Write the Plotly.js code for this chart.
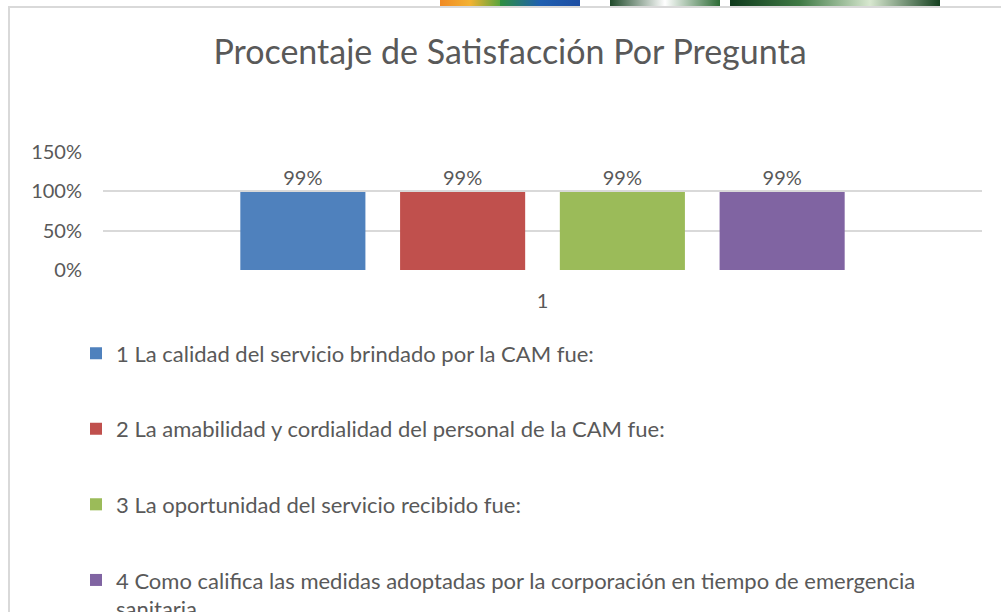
<!DOCTYPE html>
<html>
<head>
<meta charset="utf-8">
<script src="https://cdn.plot.ly/plotly-3.0.1.min.js"></script>
<style>
  html, body { margin: 0; padding: 0; width: 1001px; height: 612px; overflow: hidden; background: #fff; }
  #frame { position: absolute; left: 8px; top: 6px; width: 1010px; height: 620px;
           border-left: 2px solid #d9d9d9; border-top: 2px solid #d9d9d9; }
  #chart { position: absolute; left: 0; top: 0; width: 1000px; height: 604px; }
  .strip { position: absolute; top: 0; height: 6px; }
</style>
</head>
<body>
<div class="strip" style="left:440px;width:60px;background:linear-gradient(90deg,#f08a24,#f3b233,#5aa53c)"></div>
<div class="strip" style="left:500px;width:80px;background:linear-gradient(90deg,#2d8f3e,#1f5fb0,#1d4ea3)"></div>
<div class="strip" style="left:610px;width:110px;background:linear-gradient(90deg,#1f4a2a,#ffffff,#2c6b35)"></div>
<div class="strip" style="left:730px;width:210px;background:linear-gradient(90deg,#0f3a1c,#3f7a45,#d8e8d0,#14401f)"></div>
<div id="frame"><div id="chart"></div></div>
<script>
var category = ['1'];
var questions = [
  '1 La calidad del servicio brindado por la CAM fue:',
  '2 La amabilidad y cordialidad del personal de la CAM fue:',
  '3 La oportunidad del servicio recibido fue:',
  '4 Como califica las medidas adoptadas por la corporación en tiempo de emergencia<br>sanitaria'
];
var satisfaction = [0.99, 0.99, 0.99, 0.99];
var colors = ['#4f81bd', '#c0504d', '#9bbb59', '#8064a2'];

var traces = [];
for (var i = 0; i < questions.length; i++) {
  traces.push({
    x: category,
    y: [satisfaction[i]],
    name: questions[i],
    legendgroup: 'q' + i,
    type: 'bar',
    marker: {color: colors[i], line: {width: 16, color: 'rgba(255,255,255,0)'}},
    text: [Math.round(satisfaction[i] * 100) + '%'],
    textposition: 'outside',
    textfont: {size: 20, color: '#595959'},
    cliponaxis: false,
    hoverinfo: 'name+y'
  });
}

var layout = {
  width: 1000,
  height: 604,
  margin: {l: 93, r: 28, t: 144, b: 342, autoexpand: false},
  paper_bgcolor: '#fff',
  plot_bgcolor: '#fff',
  font: {family: 'Lato, "Open Sans", sans-serif', color: '#595959'},
  title: {
    text: 'Procentaje de Satisfacción Por Pregunta',
    font: {size: 34, color: '#595959'},
    x: 0.5, xref: 'container', xanchor: 'center',
    y: 1, yref: 'container', yanchor: 'top', pad: {t: 32}
  },
  barmode: 'group',
  bargap: 0.273,
  bargroupgap: 0.217,
  xaxis: {
    type: 'category',
    showgrid: false,
    zeroline: false,
    showline: false,
    automargin: false,
    tickfont: {size: 20, color: '#595959'},
    ticklabelstandoff: 17
  },
  yaxis: {
    range: [0, 1.5],
    dtick: 0.5,
    tickformat: '.0%',
    gridcolor: '#d9d9d9',
    gridwidth: 2,
    zeroline: false,
    showline: false,
    automargin: false,
    tickfont: {size: 20, color: '#595959'},
    ticklabelstandoff: 20
  },
  showlegend: true,
  legend: {
    orientation: 'v',
    traceorder: 'grouped',
    tracegroupgap: 44,
    xref: 'container', x: 0.066, xanchor: 'left',
    yref: 'container', y: 0.463, yanchor: 'top',
    valign: 'top',
    font: {size: 22, color: '#595959'},
    bgcolor: 'rgba(0,0,0,0)'
  }
};

Plotly.newPlot('chart', traces, layout, {displayModeBar: false, staticPlot: true});
</script>
</body>
</html>
